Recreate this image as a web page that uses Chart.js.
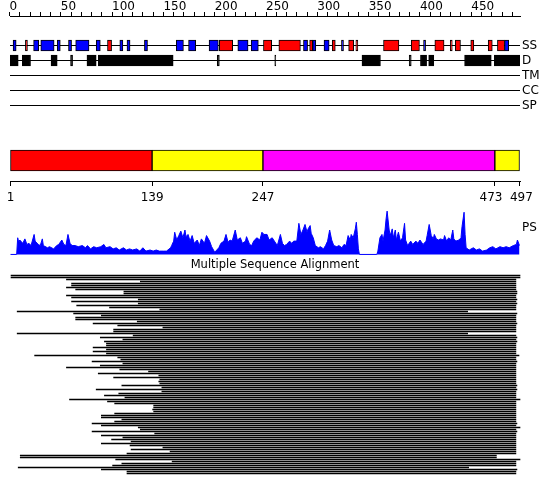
<!DOCTYPE html>
<html>
<head>
<meta charset="utf-8">
<script src="https://cdn.jsdelivr.net/npm/chart.js@4.4.1/dist/chart.umd.min.js"></script>
<style>
  body { margin: 0; background: #fff; }
  #wrap { position: relative; width: 550px; height: 495px; background: #fff; }
  #wrap canvas { position: absolute; left: 0; }
</style>
</head>
<body>
<div id="wrap">
  <canvas id="tracks" width="550" height="115" style="top:0"></canvas>
  <canvas id="domains" width="550" height="70" style="top:140px"></canvas>
  <canvas id="ps" width="550" height="50" style="top:205px"></canvas>
  <canvas id="msa" width="550" height="225" style="top:255px"></canvas>
</div>
<script>
// sequence length and annotation tracks
const SEQ_LEN = 497;
const TRACKS = ['SS', 'D', 'TM', 'CC', 'SP'];
const RULER_TICKS = [0, 10, 20, 30, 40, 50, 60, 70, 80, 90, 100, 110, 120, 130, 140, 150, 160, 170, 180, 190,
  200, 210, 220, 230, 240, 250, 260, 270, 280, 290, 300, 310, 320, 330, 340, 350, 360, 370, 380, 390,
  400, 410, 420, 430, 440, 450, 460, 470, 480, 490];
const RULER_LABELS = [0, 50, 100, 150, 200, 250, 300, 350, 400, 450];

// secondary structure (H = helix, E = strand)
const SS_START = [4, 16, 24, 31, 47, 58, 65, 85, 96, 108, 115, 132, 163, 175, 195, 205, 223, 236, 248, 263,
  287, 293, 296, 307, 315, 324, 331, 338, 365, 392, 404, 415, 430, 435, 450, 467, 476, 483];
const SS_END = [6, 17, 28, 43, 49, 60, 77, 88, 99, 110, 117, 134, 169, 181, 203, 217, 232, 242, 255, 283,
  290, 295, 298, 311, 317, 325, 335, 339, 379, 399, 405, 423, 431, 439, 452, 470, 482, 486];
const SS_TYPE = ['E', 'H', 'E', 'E', 'E', 'E', 'E', 'E', 'H', 'E', 'E', 'E', 'E', 'E', 'E', 'H', 'E', 'E', 'H', 'H',
  'E', 'H', 'E', 'E', 'H', 'E', 'H', 'H', 'H', 'H', 'E', 'H', 'H', 'H', 'H', 'H', 'H', 'E'];

// disordered regions
const DIS_START = [1, 13, 41, 60, 76, 87, 203, 259, 344, 390, 401, 409, 444, 473];
const DIS_END = [8, 20, 46, 61, 84, 159, 204, 259, 361, 391, 406, 413, 469, 497];

// domain boundaries
const DOM_START = [1, 139, 247, 473];
const DOM_END = [139, 247, 473, 497];
const DOM_TICKS = [1, 139, 247, 473, 497];

// PS profile
const PS_POS = [1, 7, 8, 9, 10, 11, 13, 15, 17, 19,
  21, 24, 25, 28, 30, 32, 33, 37, 39, 43,
  46, 48, 51, 53, 55, 57, 59, 61, 64, 67,
  71, 74, 76, 79, 82, 85, 89, 92, 94, 98,
  101, 104, 107, 111, 114, 117, 120, 124, 127, 130,
  133, 137, 140, 143, 146, 150, 153, 157, 158, 160,
  161, 163, 165, 167, 169, 171, 172, 174, 176, 178,
  180, 183, 185, 187, 190, 192, 195, 197, 200, 204,
  206, 209, 211, 213, 215, 217, 220, 222, 225, 227,
  230, 231, 234, 236, 238, 241, 244, 246, 248, 251,
  253, 256, 261, 264, 266, 268, 270, 273, 275, 277,
  280, 282, 284, 286, 288, 290, 291, 293, 294, 296,
  298, 301, 303, 306, 308, 310, 312, 314, 316, 319,
  321, 324, 326, 328, 330, 332, 333, 335, 337, 338,
  339, 340, 341, 358, 359, 361, 363, 364, 366, 367,
  368, 370, 371, 373, 374, 376, 377, 379, 381, 383,
  385, 386, 388, 391, 393, 396, 398, 400, 403, 406,
  407, 409, 411, 413, 414, 416, 418, 420, 423, 424,
  426, 428, 430, 432, 433, 435, 438, 440, 441, 443,
  444, 445, 448, 452, 455, 458, 461, 465, 468, 471,
  474, 478, 481, 484, 487, 491, 494, 495, 497];
const PS_VAL = [0, 0, 15, 11, 13, 12, 10, 14, 9, 10,
  8, 18, 12, 9, 8, 14, 8, 6, 7, 5,
  8, 9, 13, 9, 8, 18, 10, 8, 8, 7,
  8, 6, 8, 5, 7, 6, 7, 9, 6, 7,
  5, 6, 4, 6, 4, 5, 4, 5, 3, 6,
  3, 4, 3, 4, 3, 3, 3, 6, 8, 12,
  20, 13, 17, 21, 15, 22, 16, 18, 12, 17,
  10, 13, 8, 14, 10, 17, 12, 7, 2, 6,
  10, 12, 18, 11, 13, 12, 22, 13, 15, 10,
  12, 16, 9, 8, 12, 15, 13, 20, 18, 18,
  13, 15, 8, 18, 10, 8, 9, 12, 10, 12,
  12, 28, 18, 22, 27, 20, 23, 26, 19, 15,
  8, 6, 7, 5, 8, 12, 22, 13, 8, 7,
  8, 6, 9, 8, 17, 13, 18, 15, 23, 29,
  18, 5, 0, 0, 3, 15, 18, 12, 22, 32,
  39, 22, 17, 23, 15, 22, 13, 20, 12, 15,
  28, 13, 8, 12, 9, 12, 10, 13, 9, 12,
  17, 27, 17, 14, 18, 14, 13, 14, 13, 17,
  12, 15, 13, 22, 14, 12, 13, 15, 25, 38,
  18, 6, 4, 6, 4, 5, 3, 4, 6, 7,
  5, 7, 6, 7, 6, 8, 9, 13, 8];

// multiple sequence alignment: aligned span of each hit
const MSA_START = [2, 2, 56, 128, 61, 61, 56, 65, 112, 112,
  56, 61, 126, 61, 126, 66, 98, 147, 8, 63,
  90, 65, 65, 125, 82, 106, 150, 102, 102, 8,
  121, 89, 111, 93, 95, 95, 82, 95, 82, 95,
  25, 106, 109, 81, 111, 89, 56, 108, 136, 87,
  146, 102, 147, 146, 147, 110, 149, 85, 149, 107,
  93, 113, 59, 96, 103, 141, 141, 140, 141, 103,
  90, 90, 110, 103, 81, 90, 126, 128, 81, 142,
  90, 111, 100, 119, 90, 118, 150, 119, 157, 115,
  11, 11, 104, 159, 110, 101, 9, 90, 115, 115];
const MSA_END = [497, 497, 493, 493, 493, 493, 493, 493, 494, 494,
  493, 493, 494, 493, 494, 493, 493, 493, 446, 494,
  493, 493, 493, 493, 494, 493, 493, 493, 493, 446,
  493, 494, 493, 494, 493, 493, 493, 493, 493, 493,
  496, 493, 493, 494, 493, 493, 493, 493, 493, 493,
  493, 493, 493, 493, 493, 494, 493, 494, 493, 493,
  493, 493, 497, 493, 493, 493, 493, 493, 493, 493,
  493, 493, 493, 493, 494, 493, 497, 493, 494, 493,
  493, 493, 493, 493, 493, 493, 493, 493, 493, 493,
  474, 474, 497, 493, 493, 493, 447, 494, 493, 493];

// ---- drawing ----
const PX_LEFT = 10, PX_RIGHT = 520, PAGE_W = 550;
const X_MIN = 0.5, X_MAX = SEQ_LEN + 0.5;
const SS_COLORS = { H: '#ff0000', E: '#0000ff' };
const DOM_COLORS = ['#ff0000', '#ffff00', '#ff00ff', '#ffff00'];

Chart.defaults.font.family = 'DejaVu Sans';
Chart.defaults.font.size = 12;
Chart.defaults.color = '#000';
Chart.defaults.animation = false;
Chart.defaults.plugins.legend.display = false;
Chart.defaults.plugins.tooltip.enabled = false;

const span = (s, e) => [s - 0.5, e + 0.5];
const noPad = s => { s.paddingLeft = 0; s.paddingRight = 0; s.paddingTop = 0; s.paddingBottom = 0; };

// ruler + SS / D / TM / CC / SP tracks
new Chart(document.getElementById('tracks'), {
  type: 'bar',
  data: {
    datasets: [
      ...TRACKS.map((t, k) => ({
        type: 'line',
        data: [{ x: X_MIN, y: k + 1 }, { x: X_MAX, y: k + 1 }],
        borderColor: '#000', borderWidth: 1, pointRadius: 0, order: 3
      })),
      {
        type: 'bar', indexAxis: 'y', grouped: false, order: 1,
        data: SS_START.map((s, i) => ({ y: 1, x: span(s, SS_END[i]) })),
        backgroundColor: SS_TYPE.map(t => SS_COLORS[t]),
        borderColor: '#000', borderWidth: 1, borderSkipped: false, barThickness: 11
      },
      {
        type: 'bar', indexAxis: 'y', grouped: false, order: 1,
        data: DIS_START.map((s, i) => ({ y: 2, x: span(s, DIS_END[i]) })),
        backgroundColor: '#000',
        borderColor: '#000', borderWidth: 1, borderSkipped: false, barThickness: 11
      }
    ]
  },
  options: {
    responsive: false,
    layout: { padding: { left: PX_LEFT, right: 0, top: 0, bottom: 0 } },
    scales: {
      x: {
        type: 'linear', position: 'top', min: X_MIN, max: X_MAX, offset: false,
        grid: { offset: false, drawOnChartArea: false, drawTicks: true, tickLength: 4, color: '#000' },
        border: { display: true, color: '#000' },
        ticks: { autoSkip: false, maxRotation: 0, align: 'start', padding: -2,
          callback: v => RULER_LABELS.includes(v) ? String(v) : '' },
        afterBuildTicks: s => { s.ticks = RULER_TICKS.map(v => ({ value: v })); },
        afterFit: s => { s.height = 16; noPad(s); }
      },
      y: {
        type: 'linear', position: 'right', reverse: true, offset: false,
        min: -0.96667, max: 5.63333,
        grid: { display: false, drawTicks: false },
        border: { display: false },
        ticks: { padding: 2, callback: v => TRACKS[v - 1] || '' },
        afterBuildTicks: s => { s.ticks = TRACKS.map((t, k) => ({ value: k + 1 })); },
        afterFit: s => { s.width = PAGE_W - PX_RIGHT; noPad(s); }
      }
    }
  }
});

// domain bar with boundary axis
new Chart(document.getElementById('domains'), {
  type: 'bar',
  data: {
    datasets: [{
      indexAxis: 'y', grouped: false,
      data: DOM_START.map((s, i) => ({ y: 0, x: [s, DOM_END[i]] })),
      backgroundColor: DOM_COLORS,
      borderColor: '#000', borderWidth: 1, borderSkipped: false, barThickness: 21
    }]
  },
  options: {
    responsive: false,
    layout: { padding: { left: PX_LEFT, right: PAGE_W - PX_RIGHT, top: 0, bottom: 0 } },
    scales: {
      x: {
        type: 'linear', position: 'bottom', min: X_MIN, max: X_MAX, offset: false,
        grid: { offset: false, drawOnChartArea: false, drawTicks: true, tickLength: 5, color: '#000' },
        border: { display: true, color: '#000' },
        // nudge the two close labels at the end apart a little
        ticks: { autoSkip: false, maxRotation: 0, padding: 5,
          callback: (v, i, all) => i === all.length - 2 ? v + '  ' : (i === all.length - 1 ? ' ' + v : String(v)) },
        afterBuildTicks: s => { s.ticks = DOM_TICKS.map(v => ({ value: v })); },
        afterFit: s => { s.height = 29; noPad(s); }
      },
      y: { type: 'linear', display: false, min: -20.5, max: 20.5, offset: false }
    }
  }
});

// PS profile
new Chart(document.getElementById('ps'), {
  type: 'line',
  data: {
    datasets: [{
      data: PS_POS.map((x, i) => ({ x, y: PS_VAL[i] })),
      borderColor: '#0000ff', backgroundColor: '#0000ff', borderWidth: 1,
      pointRadius: 0, fill: 'origin', tension: 0
    }]
  },
  options: {
    responsive: false,
    layout: { padding: { left: PX_LEFT, right: 0, top: 0, bottom: 0 } },
    scales: {
      x: { type: 'linear', display: false, min: X_MIN, max: X_MAX },
      y: {
        type: 'linear', position: 'right', min: -0.5, max: 44.5,
        grid: { display: false, drawTicks: false },
        border: { display: false },
        ticks: { padding: 2, callback: () => 'PS' },
        afterBuildTicks: s => { s.ticks = [{ value: 23.5 }]; },
        afterFit: s => { s.width = PAGE_W - PX_RIGHT; noPad(s); }
      }
    }
  }
});

// multiple sequence alignment
const k = (X_MAX - X_MIN) / (PX_RIGHT - PX_LEFT);
new Chart(document.getElementById('msa'), {
  type: 'bar',
  data: {
    datasets: [{
      indexAxis: 'y', grouped: false,
      data: MSA_START.map((s, i) => ({ y: i, x: span(s, MSA_END[i]) })),
      backgroundColor: '#000', borderWidth: 0, barThickness: 1
    }]
  },
  options: {
    responsive: false,
    layout: { padding: 0 },
    plugins: {
      title: {
        display: true, text: 'Multiple Sequence Alignment', color: '#000',
        font: { size: 11.5, weight: 'normal' }, padding: { top: 3, bottom: 2.2 }
      }
    },
    scales: {
      x: { type: 'linear', display: false, offset: false,
        min: X_MIN - PX_LEFT * k, max: X_MAX + (PAGE_W - PX_RIGHT) * k },
      y: { type: 'linear', display: false, reverse: true, offset: false, min: -0.75, max: 102.25 }
    }
  }
});
</script>
</body>
</html>
